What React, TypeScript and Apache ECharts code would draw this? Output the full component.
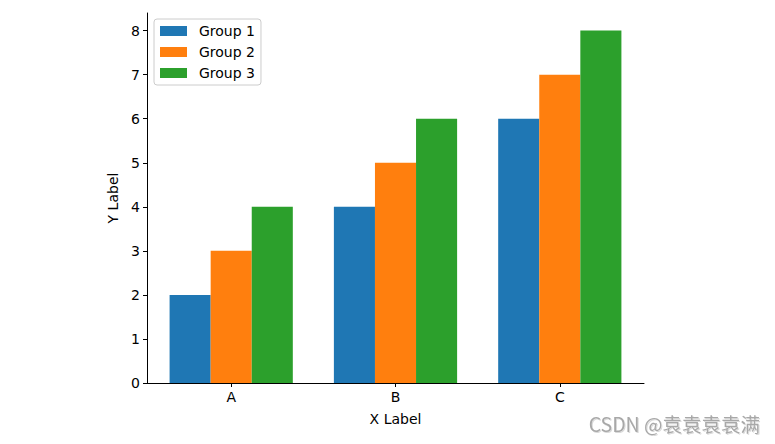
import React, { useEffect, useRef } from "react";
import * as echarts from "echarts";

const categories = ["A", "B", "C"];
const seriesNames = ["Group 1", "Group 2", "Group 3"];
const group1 = [2, 4, 6];
const group2 = [3, 5, 7];
const group3 = [4, 6, 8];
const colors = ["#1f77b4", "#ff7f0e", "#2ca02c"];
const offsets = [-0.25, 0, 0.25];

const FONT = "DejaVu Sans";

export default function App() {
  const ref = useRef<HTMLDivElement>(null);
  useEffect(() => {
    if (!ref.current) return;
    const chart = echarts.init(ref.current, undefined, { renderer: "svg" });
    const values = [group1, group2, group3];
    chart.setOption({
      animation: false,
      textStyle: { fontFamily: FONT },
      grid: { left: 147, right: 131, top: 13, bottom: 61, containLabel: false },
      legend: {
        orient: "vertical",
        left: 154,
        top: 19,
        padding: [5, 6, 5, 6],
        itemGap: 7,
        itemWidth: 27,
        itemHeight: 10,
        borderColor: "#cccccc",
        borderWidth: 1,
        borderRadius: 3,
        backgroundColor: "#ffffff",
        icon: "rect",
        data: seriesNames,
        textStyle: { fontFamily: FONT, fontSize: 14, color: "#000", padding: [0, 0, 0, 7] },
      },
      xAxis: {
        type: "value",
        min: -0.5125,
        max: 2.5125,
        name: "X Label",
        nameLocation: "middle",
        nameGap: 29,
        nameTextStyle: { fontFamily: FONT, fontSize: 14, color: "#000" },
        axisLine: { show: true, onZero: false, lineStyle: { color: "#000", width: 1 } },
        axisTick: { show: true, length: 4, lineStyle: { color: "#000" }, customValues: [0, 1, 2] },
        axisLabel: {
          customValues: [0, 1, 2],
          formatter: (v: number) => categories[Math.round(v)] ?? "",
          fontFamily: FONT,
          fontSize: 14,
          color: "#000",
          margin: 7,
        },
        splitLine: { show: false },
      },
      yAxis: {
        type: "value",
        min: 0,
        max: 8.4,
        interval: 1,
        name: "Y Label",
        nameLocation: "middle",
        nameGap: 25,
        nameTextStyle: { fontFamily: FONT, fontSize: 14, color: "#000" },
        axisLine: { show: true, onZero: false, lineStyle: { color: "#000", width: 1 } },
        axisTick: { show: true, length: 4, lineStyle: { color: "#000" } },
        axisLabel: { fontFamily: FONT, fontSize: 14, color: "#000", margin: 7, showMaxLabel: false },
        splitLine: { show: false },
      },
      series: seriesNames.map((name, i) => ({
        name,
        type: "custom",
        renderItem: (params: any, api: any) => {
          const x = api.value(0);
          const y = api.value(1);
          const p0 = api.coord([x - 0.125, y]);
          const p1 = api.coord([x + 0.125, 0]);
          return {
            type: "rect",
            shape: { x: p0[0], y: p0[1], width: p1[0] - p0[0], height: p1[1] - p0[1] },
            style: { fill: colors[i] },
          };
        },
        itemStyle: { color: colors[i] },
        encode: { x: 0, y: 1 },
        data: values[i].map((v, k) => [k + offsets[i], v]),
      })),
      graphic: [
        {
          type: "text",
          right: 15,
          top: 414,
          style: {
            text: "CSDN @袁袁袁袁满",
            fontFamily: "Noto Sans CJK SC",
            fontSize: 19.5,
            fill: "#a8a8a8",
            textShadowColor: "rgba(0,0,0,0.15)",
            textShadowBlur: 1,
            textShadowOffsetX: 1,
            textShadowOffsetY: 1,
          },
        },
      ],
    });
    return () => chart.dispose();
  }, []);
  return <div ref={ref} style={{ width: 775, height: 444, margin: -8 }} />;
}
